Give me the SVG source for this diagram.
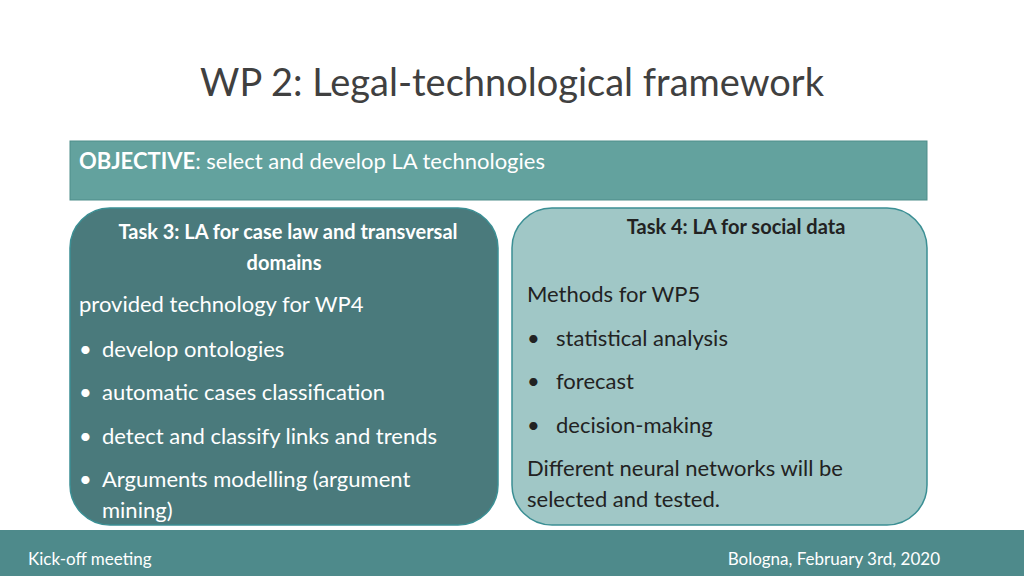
<svg xmlns="http://www.w3.org/2000/svg" width="1024" height="576" viewBox="0 0 1024 576">
<style>
text{font-family:Lato,"Open Sans",sans-serif;}
.w{fill:#fff;font-size:22px}
.d{fill:#222;font-size:22px}
.b{font-weight:bold;font-size:20px}
</style>
<rect width="1024" height="576" fill="#fff"/>
<text x="512" y="96" text-anchor="middle" font-size="38" fill="#404040">WP 2: Legal-technological framework</text>
<g id="objective">
<rect x="70" y="141" width="857" height="59" fill="#63a29e" stroke="#4e8d8a"/>
<text x="79" y="169" class="w"><tspan font-weight="bold">OBJECTIVE</tspan>:  select and develop LA technologies</text>
</g>
<g id="task3">
<rect x="70" y="208" width="428" height="317" rx="40" fill="#4a7a7c" stroke="#3b8f94" stroke-width="1.5"/>
<text x="288" y="239" text-anchor="middle" class="w b">Task 3: LA for case law and transversal</text>
<text x="284" y="270" text-anchor="middle" class="w b">domains</text>
<text x="79" y="312" class="w">provided technology for WP4</text>
<text x="79" y="357" class="w">• <tspan x="102">develop ontologies</tspan></text>
<text x="79" y="400" class="w">• <tspan x="102">automatic cases classification</tspan></text>
<text x="79" y="444" class="w">• <tspan x="102">detect and classify links and trends</tspan></text>
<text x="79" y="487" class="w">• <tspan x="102">Arguments modelling (argument</tspan></text>
<text x="102" y="518" class="w">mining)</text>
</g>
<g id="task4">
<rect x="512" y="208" width="415" height="317" rx="40" fill="#a0c7c6" stroke="#3b8f94" stroke-width="1.5"/>
<text x="736" y="234" text-anchor="middle" class="d b">Task 4: LA for social data</text>
<text x="527" y="302" class="d">Methods for WP5</text>
<text x="527" y="346" class="d">• <tspan x="556">statistical analysis</tspan></text>
<text x="527" y="389" class="d">• <tspan x="556">forecast</tspan></text>
<text x="527" y="433" class="d">• <tspan x="556">decision-making</tspan></text>
<text x="527" y="476" class="d">Different neural networks will be</text>
<text x="527" y="507" class="d">selected and tested.</text>
</g>
<g id="footer">
<rect x="0" y="530" width="1024" height="46" fill="#4e8a8b"/>
<text x="28" y="565" fill="#fff" font-size="17">Kick-off meeting</text>
<text x="940" y="565" fill="#fff" font-size="17" text-anchor="end">Bologna, February 3rd, 2020</text>
</g>
<g id="connectors"/>
</svg>
